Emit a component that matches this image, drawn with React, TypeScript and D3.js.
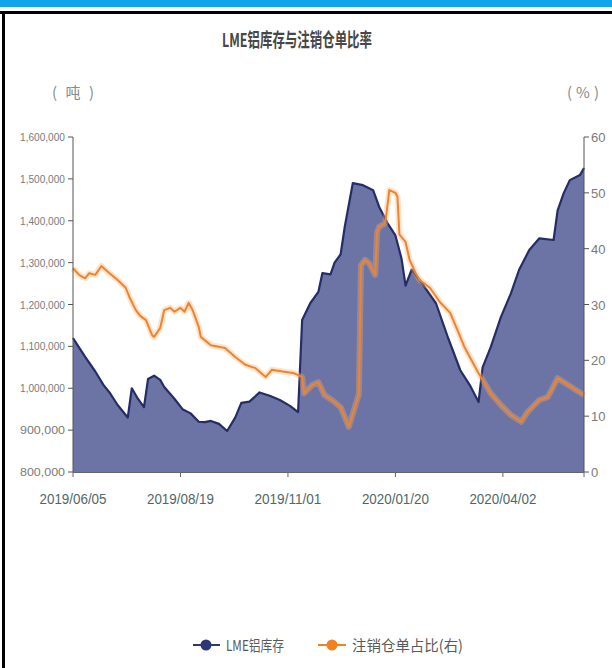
import React from "react";
import * as d3 from "d3";

// LME aluminium stock (tonnes) by trading-day index
const stockDays = [0, 2, 6, 11, 15, 18, 22, 27, 29, 32, 35, 37, 40, 43, 45, 50, 54, 58, 62, 65, 68, 72, 76, 80, 83, 87, 92, 97, 102, 107, 111, 113, 117, 121, 123, 127, 129, 132, 134, 138, 143, 148, 151, 155, 159, 162, 164, 167, 171, 179, 185, 191, 196, 200, 202, 206, 211, 216, 220, 225, 230, 237, 239, 242, 245, 250, 252];
const stockValues = [1120000, 1105000, 1075000, 1040000, 1008000, 990000, 960000, 930000, 1000000, 975000, 955000, 1022000, 1030000, 1020000, 1003000, 975000, 950000, 940000, 920000, 919000, 922000, 915000, 898000, 930000, 965000, 968000, 990000, 982000, 972000, 958000, 943000, 1163000, 1203000, 1230000, 1275000, 1272000, 1300000, 1320000, 1385000, 1490000, 1485000, 1473000, 1433000, 1395000, 1365000, 1310000, 1245000, 1283000, 1258000, 1203000, 1120000, 1043000, 1005000, 967000, 1050000, 1098000, 1170000, 1227000, 1283000, 1330000, 1358000, 1354000, 1425000, 1466000, 1497000, 1509000, 1526000];

// cancelled warrants ratio (%) by trading-day index
const ratioDays = [0, 3, 6, 8, 11, 14, 18, 22, 26, 28, 31, 33, 36, 39, 40, 43, 45, 48, 50, 53, 55, 57, 59, 62, 63, 68, 75, 80, 85, 90, 95, 98, 105, 109, 113, 114, 118, 121, 124, 128, 132, 136, 139, 141, 142, 144, 146, 149, 150, 151, 154, 156, 159, 160, 161, 164, 166, 169, 171, 176, 181, 186, 191, 193, 200, 206, 211, 216, 221, 224, 230, 234, 236, 239, 242, 248, 252];
const ratioValues = [36.5, 35.3, 34.7, 35.6, 35.3, 36.9, 35.6, 34.4, 33.0, 31.2, 29.0, 28.0, 27.2, 24.5, 24.2, 25.8, 29.0, 29.4, 28.7, 29.4, 28.7, 30.3, 29.0, 26.0, 24.2, 22.7, 22.2, 20.6, 19.2, 18.6, 17.0, 18.3, 17.9, 17.7, 17.0, 14.1, 15.6, 16.1, 13.8, 12.8, 11.6, 8.1, 11.6, 14.0, 37.0, 38.0, 37.4, 35.3, 43.0, 43.9, 44.6, 50.5, 50.0, 49.3, 42.5, 41.2, 38.0, 35.6, 34.4, 33.0, 30.4, 28.5, 24.2, 22.4, 17.7, 14.1, 12.0, 10.2, 9.0, 10.7, 12.9, 13.4, 14.7, 16.8, 16.1, 14.7, 13.8];

const xTickDays = [0, 53, 106, 159, 212];
const xTickLabels = ["2019/06/05", "2019/08/19", "2019/11/01", "2020/01/20", "2020/04/02"];
const leftTicks = [800000, 900000, 1000000, 1100000, 1200000, 1300000, 1400000, 1500000, 1600000];
const rightTicks = [0, 10, 20, 30, 40, 50, 60];

const title = "LME铝库存与注销仓单比率";
const seriesNames = ["LME铝库存", "注销仓单占比(右)"];

export default function App() {
  const W = 612, H = 668;
  const L = 73, R = 584, T = 137, B = 472;
  const x = d3.scaleLinear().domain([0, 252]).range([L, R]);
  const yL = d3.scaleLinear().domain([800000, 1600000]).range([B, T]);
  const yR = d3.scaleLinear().domain([0, 60]).range([B, T]);

  const stock = stockDays.map((d, i) => [d, stockValues[i]] as [number, number]);
  const ratio = ratioDays.map((d, i) => [d, ratioValues[i]] as [number, number]);

  const area = d3.area<[number, number]>().x(d => x(d[0])).y0(B).y1(d => yL(d[1]))(stock) || "";
  const sLine = d3.line<[number, number]>().x(d => x(d[0])).y(d => yL(d[1]))(stock) || "";
  const rLine = d3.line<[number, number]>().x(d => x(d[0])).y(d => yR(d[1]))(ratio) || "";
  const fmt = d3.format(",");
  const numFont = "'Liberation Sans', 'DejaVu Sans', sans-serif";
  const cjk = "'Noto Sans CJK SC', sans-serif";

  return (
    <svg width={W} height={H} style={{ position: "absolute", left: 0, top: 0, background: "#fff" }}>
      <rect x={0} y={0} width={W} height={7} fill="#10a4ea" />
      <line x1={0} x2={W} y1={12.5} y2={12.5} stroke="#000" strokeWidth={3} />
      <line x1={3.5} x2={3.5} y1={11} y2={H} stroke="#000" strokeWidth={3} />

      <text x={297} y={47} textAnchor="middle" fontFamily={cjk} fontSize={19} fontWeight="bold" fill="#474747" textLength={150} lengthAdjust="spacingAndGlyphs">{title}</text>

      <text x={73} y={98} textAnchor="middle" fontFamily={cjk} fontSize={15} fill="#8a8a8a" textLength={42} lengthAdjust="spacing">(吨)</text>
      <text x={583} y={98} textAnchor="middle" fontFamily={cjk} fontSize={15} fill="#8a8a8a" textLength={32} lengthAdjust="spacing">(%)</text>

      <path d={area} fill="#6b74a4" />
      <path d={sLine} fill="none" stroke="#252d68" strokeWidth={2.2} strokeLinejoin="round" />
      <path d={rLine} fill="none" stroke="#ffb06a" strokeOpacity={0.35} strokeWidth={6} strokeLinejoin="round" />
      <path d={rLine} fill="none" stroke="#ee8330" strokeWidth={2} strokeLinejoin="round" />

      {/* left axis */}
      <line x1={L} x2={L} y1={T} y2={B} stroke="#555" strokeWidth={1} />
      {leftTicks.map(t => (
        <g key={t}>
          <line x1={L - 5} x2={L} y1={yL(t)} y2={yL(t)} stroke="#555" />
          <text x={L - 8} y={yL(t) + 4} textAnchor="end" fontFamily={numFont} fontSize={11} fill="#7a7a7a" textLength={45} lengthAdjust="spacingAndGlyphs">{fmt(t)}</text>
        </g>
      ))}

      {/* right axis */}
      <line x1={R} x2={R} y1={T} y2={B} stroke="#555" strokeWidth={1} />
      {rightTicks.map(t => (
        <g key={t}>
          <line x1={R} x2={R + 5} y1={yR(t)} y2={yR(t)} stroke="#555" />
          <text x={R + 7} y={yR(t) + 5} textAnchor="start" fontFamily={numFont} fontSize={13} fill="#7a7a7a">{t}</text>
        </g>
      ))}

      {/* bottom axis */}
      <line x1={L} x2={R} y1={B + 0.5} y2={B + 0.5} stroke="#666" />
      {xTickDays.map((d, i) => (
        <g key={d}>
          <line x1={x(d)} x2={x(d)} y1={B} y2={B + 5} stroke="#666" />
          <text x={x(d)} y={B + 32} textAnchor="middle" fontFamily={numFont} fontSize={15} fill="#4f6767" textLength={67} lengthAdjust="spacingAndGlyphs">{xTickLabels[i]}</text>
        </g>
      ))}
      <line x1={R} x2={R} y1={B} y2={B + 5} stroke="#666" />

      {/* legend */}
      <line x1={193} x2={220} y1={645} y2={645} stroke="#2e3677" strokeWidth={2} />
      <circle cx={206} cy={645} r={5.5} fill="#2e3677" />
      <text x={226} y={651} fontFamily={cjk} fontSize={15} fill="#5a5a5a" textLength={58} lengthAdjust="spacingAndGlyphs">{seriesNames[0]}</text>
      <line x1={318} x2={346} y1={645} y2={645} stroke="#f28122" strokeWidth={2} />
      <circle cx={332} cy={645} r={5.5} fill="#f28122" />
      <text x={352} y={651} fontFamily={cjk} fontSize={15} fill="#5a5a5a" textLength={111} lengthAdjust="spacingAndGlyphs">{seriesNames[1]}</text>
    </svg>
  );
}
